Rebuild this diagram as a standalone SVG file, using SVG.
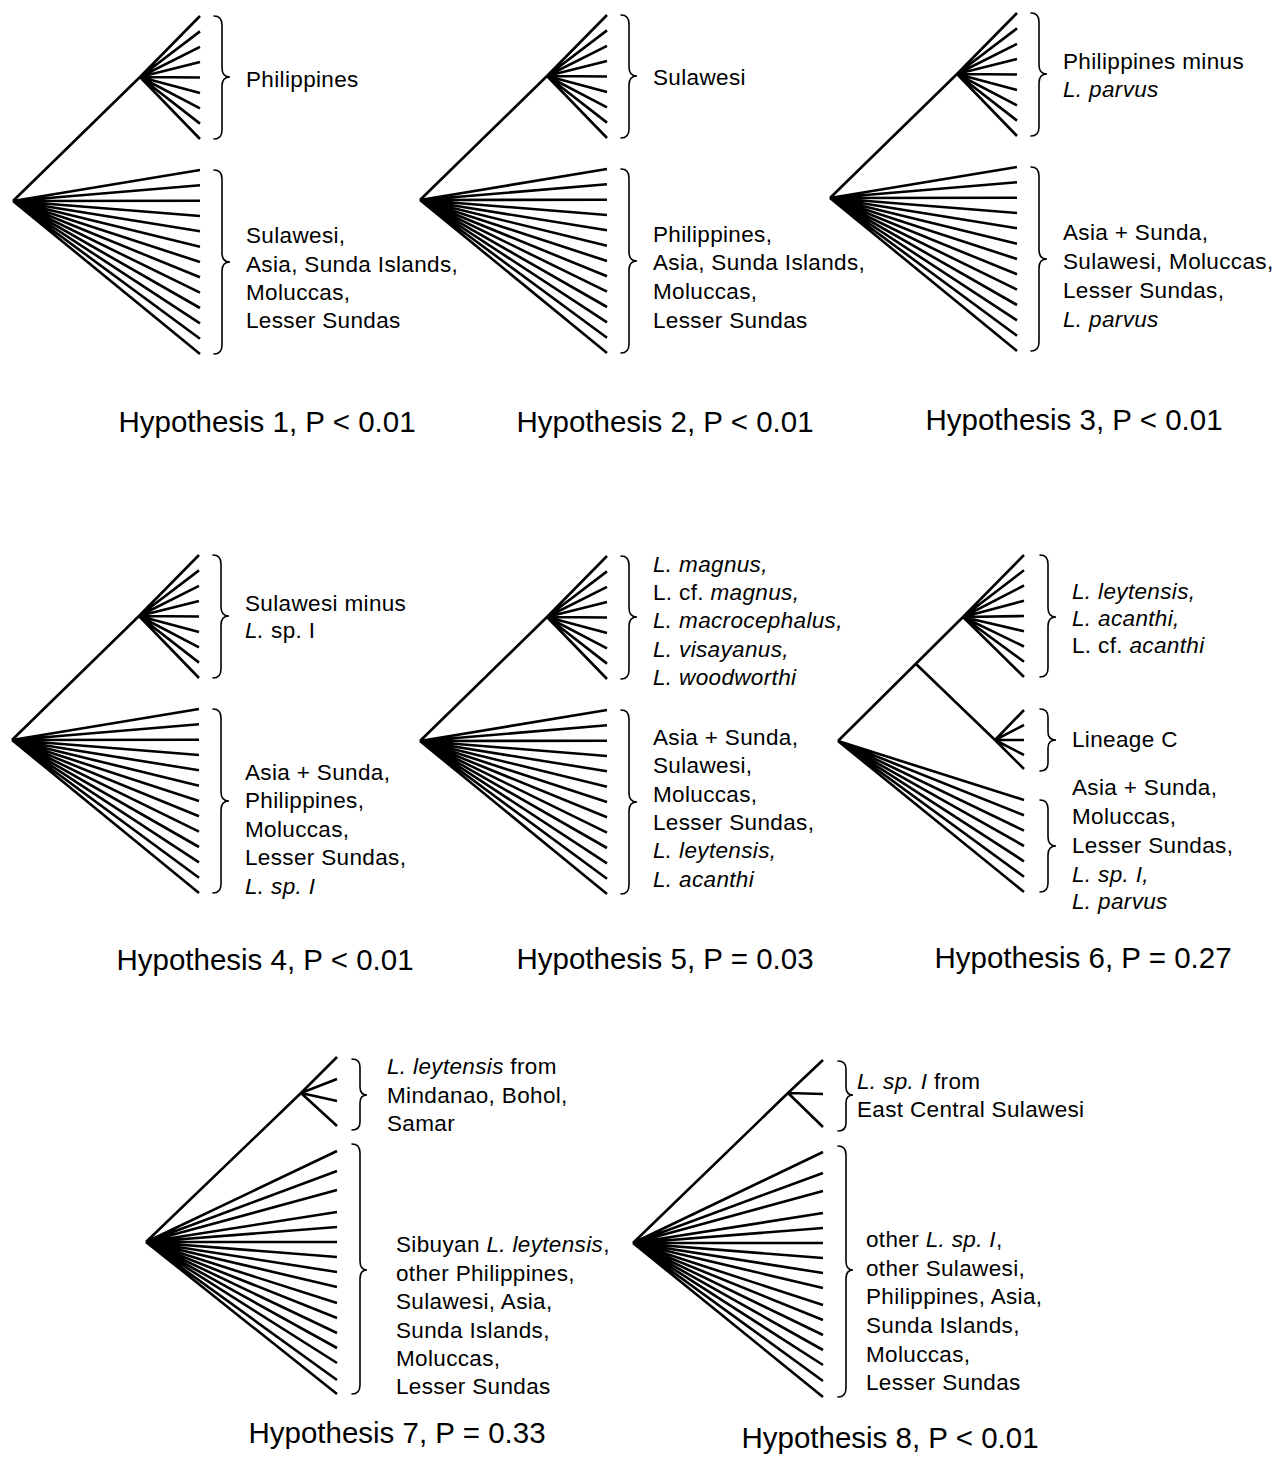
<svg xmlns="http://www.w3.org/2000/svg" xmlns:xlink="http://www.w3.org/1999/xlink" width="1278" height="1479" viewBox="0 0 1278 1479">
<style>
.t{fill:none;stroke:#000;stroke-width:2.6;stroke-linecap:butt}
.b{fill:none;stroke:#000;stroke-width:1.6;stroke-linecap:round}
.l{font-family:"Liberation Sans",Arial,sans-serif;font-size:22.5px;letter-spacing:0.35px;fill:#000}
.h{font-family:"Liberation Sans",Arial,sans-serif;font-size:29.5px;fill:#000;text-anchor:middle}
.i{font-style:italic}
</style>
<defs>
<g id="std">
<path class="t" d="M13 201 L140 77 M140 77 L200 16 M140 77 L200 31.4 M140 77 L200 46.8 M140 77 L200 62.1 M140 77 L200 77.5 M140 77 L200 92.9 M140 77 L200 108.3 M140 77 L200 123.6 M140 77 L200 139 M13 201 L200 170 M13 201 L200 185.3 M13 201 L200 200.7 M13 201 L200 216 M13 201 L200 231.3 M13 201 L200 246.7 M13 201 L200 262 M13 201 L200 277.3 M13 201 L200 292.7 M13 201 L200 308 M13 201 L200 323.3 M13 201 L200 338.7 M13 201 L200 354"/>
<path class="b" d="M214 16 Q222 16 222 25 L222 68 Q222 77 230 77 Q222 77 222 86 L222 130 Q222 139 214 139"/>
<path class="b" d="M214 170 Q222 170 222 179 L222 253 Q222 262 230 262 Q222 262 222 271 L222 345 Q222 354 214 354"/>
</g>
</defs>

<g id="connectors">
<use id="tree1" xlink:href="#std" href="#std"/>
<use id="tree2" xlink:href="#std" href="#std" transform="translate(407,-1)"/>
<use id="tree3" xlink:href="#std" href="#std" transform="translate(817,-3)"/>
<use id="tree4" xlink:href="#std" href="#std" transform="translate(-1,539)"/>
<use id="tree5" xlink:href="#std" href="#std" transform="translate(407,540)"/>
<g id="tree6">
<path class="t" d="M838 741 L963 617 M963 617 L1024 555 M963 617 L1024 570.3 M963 617 L1024 585.5 M963 617 L1024 600.8 M963 617 L1024 616 M963 617 L1024 631.3 M963 617 L1024 646.5 M963 617 L1024 661.8 M963 617 L1024 677 M916 664 L995 740 M995 740 L1024 710 M995 740 L1024 725 M995 740 L1024 740 M995 740 L1024 755 M995 740 L1024 769 M838 741 L1024 800 M838 741 L1024 815.3 M838 741 L1024 830.7 M838 741 L1024 846 M838 741 L1024 861.3 M838 741 L1024 876.7 M838 741 L1024 892"/>
<path class="b" d="M1040 555 Q1048 555 1048 564 L1048 608 Q1048 617 1056 617 Q1048 617 1048 626 L1048 668 Q1048 677 1040 677"/>
<path class="b" d="M1040 709 Q1048 709 1048 717 L1048 732 Q1048 740 1056 740 Q1048 740 1048 748 L1048 763 Q1048 771 1040 771"/>
<path class="b" d="M1040 800 Q1048 800 1048 809 L1048 837 Q1048 846 1056 846 Q1048 846 1048 855 L1048 883 Q1048 892 1040 892"/>
</g>
<g id="tree7">
<path class="t" d="M146 1242 L301 1093 M301 1093 L337 1057 M301 1093 L337 1079 M301 1093 L337 1101 M301 1093 L337 1126 M146 1242 L337 1151 M146 1242 L337 1171 M146 1242 L337 1190 M146 1242 L337 1212 M146 1242 L337 1227 M146 1242 L337 1242 M146 1242 L337 1257 M146 1242 L337 1272 M146 1242 L337 1287 M146 1242 L337 1303 M146 1242 L337 1318 M146 1242 L337 1333 M146 1242 L337 1348 M146 1242 L337 1363 M146 1242 L337 1380 M146 1242 L337 1394"/>
<path class="b" d="M352 1059 Q360 1059 360 1067 L360 1087 Q360 1095 367 1095 Q360 1095 360 1103 L360 1122 Q360 1130 352 1130"/>
<path class="b" d="M352 1144 Q360 1144 360 1153 L360 1261 Q360 1270 367 1270 Q360 1270 360 1279 L360 1385 Q360 1394 352 1394"/>
</g>
<g id="tree8">
<path class="t" d="M633 1243 L788 1093 M788 1093 L823 1060 M788 1093 L823 1094 M788 1093 L823 1127 M633 1243 L823 1152 M633 1243 L823 1173 M633 1243 L823 1191 M633 1243 L823 1213 M633 1243 L823 1228 M633 1243 L823 1243 M633 1243 L823 1258 M633 1243 L823 1273 M633 1243 L823 1288 M633 1243 L823 1305 M633 1243 L823 1320 M633 1243 L823 1335 M633 1243 L823 1350 M633 1243 L823 1365 M633 1243 L823 1381 M633 1243 L823 1397"/>
<path class="b" d="M838 1061 Q846 1061 846 1069 L846 1087 Q846 1095 853 1095 Q846 1095 846 1103 L846 1123 Q846 1131 838 1131"/>
<path class="b" d="M838 1146 Q846 1146 846 1155 L846 1261 Q846 1270 853 1270 Q846 1270 846 1279 L846 1388 Q846 1397 838 1397"/>
</g>
</g>

<g id="hyp1">
<text class="l" x="246" y="87">Philippines</text>
<text class="l" x="246" y="243">Sulawesi,</text>
<text class="l" x="246" y="272">Asia, Sunda Islands,</text>
<text class="l" x="246" y="300">Moluccas,</text>
<text class="l" x="246" y="328">Lesser Sundas</text>
<text class="h" x="267" y="432">Hypothesis 1, P &lt; 0.01</text>
</g>
<g id="hyp2">
<text class="l" x="653" y="85">Sulawesi</text>
<text class="l" x="653" y="242">Philippines,</text>
<text class="l" x="653" y="270">Asia, Sunda Islands,</text>
<text class="l" x="653" y="299">Moluccas,</text>
<text class="l" x="653" y="328">Lesser Sundas</text>
<text class="h" x="665" y="432">Hypothesis 2, P &lt; 0.01</text>
</g>
<g id="hyp3">
<text class="l" x="1063" y="69">Philippines minus</text>
<text class="l i" x="1063" y="97">L. parvus</text>
<text class="l" x="1063" y="240">Asia + Sunda,</text>
<text class="l" x="1063" y="269">Sulawesi, Moluccas,</text>
<text class="l" x="1063" y="298">Lesser Sundas,</text>
<text class="l i" x="1063" y="327">L. parvus</text>
<text class="h" x="1074" y="430">Hypothesis 3, P &lt; 0.01</text>
</g>
<g id="hyp4">
<text class="l" x="245" y="611">Sulawesi minus</text>
<text class="l" x="245" y="638"><tspan class="i">L.</tspan> sp. I</text>
<text class="l" x="245" y="780">Asia + Sunda,</text>
<text class="l" x="245" y="808">Philippines,</text>
<text class="l" x="245" y="837">Moluccas,</text>
<text class="l" x="245" y="865">Lesser Sundas,</text>
<text class="l i" x="245" y="894">L. sp. I</text>
<text class="h" x="265" y="970">Hypothesis 4, P &lt; 0.01</text>
</g>
<g id="hyp5">
<text class="l i" x="653" y="572">L. magnus,</text>
<text class="l" x="653" y="600">L. cf. <tspan class="i">magnus,</tspan></text>
<text class="l i" x="653" y="628">L. macrocephalus,</text>
<text class="l i" x="653" y="657">L. visayanus,</text>
<text class="l i" x="653" y="685">L. woodworthi</text>
<text class="l" x="653" y="745">Asia + Sunda,</text>
<text class="l" x="653" y="773">Sulawesi,</text>
<text class="l" x="653" y="802">Moluccas,</text>
<text class="l" x="653" y="830">Lesser Sundas,</text>
<text class="l i" x="653" y="858">L. leytensis,</text>
<text class="l i" x="653" y="887">L. acanthi</text>
<text class="h" x="665" y="969">Hypothesis 5, P = 0.03</text>
</g>
<g id="hyp6">
<text class="l i" x="1072" y="599">L. leytensis,</text>
<text class="l i" x="1072" y="626">L. acanthi,</text>
<text class="l" x="1072" y="653">L. cf. <tspan class="i">acanthi</tspan></text>
<text class="l" x="1072" y="747">Lineage C</text>
<text class="l" x="1072" y="795">Asia + Sunda,</text>
<text class="l" x="1072" y="824">Moluccas,</text>
<text class="l" x="1072" y="853">Lesser Sundas,</text>
<text class="l i" x="1072" y="882">L. sp. I,</text>
<text class="l i" x="1072" y="909">L. parvus</text>
<text class="h" x="1083" y="968">Hypothesis 6, P = 0.27</text>
</g>
<g id="hyp7">
<text class="l" x="387" y="1074"><tspan class="i">L. leytensis</tspan> from</text>
<text class="l" x="387" y="1103">Mindanao, Bohol,</text>
<text class="l" x="387" y="1131">Samar</text>
<text class="l" x="396" y="1252">Sibuyan <tspan class="i">L. leytensis</tspan>,</text>
<text class="l" x="396" y="1281">other Philippines,</text>
<text class="l" x="396" y="1309">Sulawesi, Asia,</text>
<text class="l" x="396" y="1338">Sunda Islands,</text>
<text class="l" x="396" y="1366">Moluccas,</text>
<text class="l" x="396" y="1394">Lesser Sundas</text>
<text class="h" x="397" y="1443">Hypothesis 7, P = 0.33</text>
</g>
<g id="hyp8">
<text class="l" x="857" y="1089"><tspan class="i">L. sp. I</tspan> from</text>
<text class="l" x="857" y="1117">East Central Sulawesi</text>
<text class="l" x="866" y="1247">other <tspan class="i">L. sp. I</tspan>,</text>
<text class="l" x="866" y="1276">other Sulawesi,</text>
<text class="l" x="866" y="1304">Philippines, Asia,</text>
<text class="l" x="866" y="1333">Sunda Islands,</text>
<text class="l" x="866" y="1362">Moluccas,</text>
<text class="l" x="866" y="1390">Lesser Sundas</text>
<text class="h" x="890" y="1448">Hypothesis 8, P &lt; 0.01</text>
</g>
</svg>
